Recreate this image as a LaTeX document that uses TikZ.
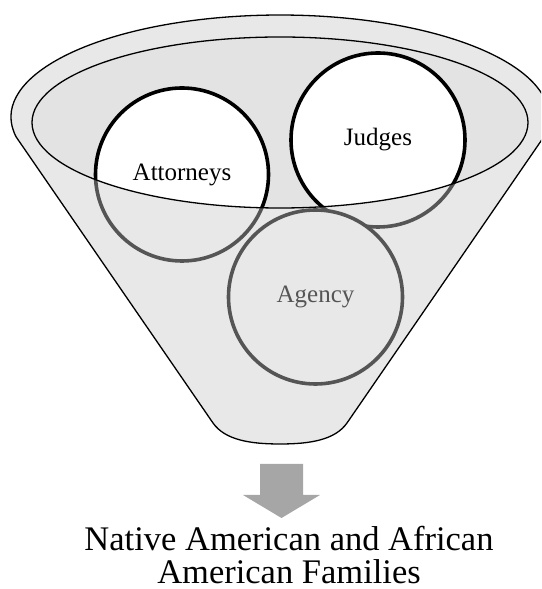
\documentclass[tikz,border=0pt]{standalone}
\usepackage{fontspec}
\setmainfont{Liberation Serif}
\definecolor{funnelgray}{gray}{0.89}
\definecolor{veil}{gray}{0.787}
\definecolor{arrowgray}{HTML}{A6A6A6}
\tikzset{
  ring/.style={circle, draw=black, line width=3.6pt, fill=white, minimum size=#1, inner sep=0pt, font=\fontsize{25}{30}\selectfont},
  outline/.style={draw=black, line width=1.3pt},
  caption/.style={anchor=base, inner sep=0pt, font=\fontsize{34.5}{34}\selectfont},
}
\begin{document}
\begin{tikzpicture}[x=1pt,y=1pt]
\useasboundingbox (0,0) rectangle (541,589);
\clip (0,0) rectangle (541,589);
\def\funnelpath{(16.2,452) arc[start angle=191.3, end angle=-11.3, x radius=269, y radius=102] -- (347,166) .. controls (335,149) and (310,145) .. (280,145) .. controls (250,145) and (225,149) .. (213,166) -- cycle}
\def\innerpath{(280,466.5) ellipse[x radius=248, y radius=85.5]}
% funnel body
\fill[white] \funnelpath;
\fill[funnelgray] \innerpath;
% circles
\node[ring=173pt] (att) at (182,414.5) {Attorneys};
\node[ring=174pt] (jud) at (378,449) {Judges};
\node[ring=174pt] (agy) at (315.5,292) {Agency};
% veil over the lower funnel
\begin{scope}
  \clip \funnelpath;
  \fill[veil, fill opacity=0.423, even odd rule] (0,0) rectangle (541,589) \innerpath;
\end{scope}
% outlines
\draw[outline] \funnelpath;
\draw[outline] \innerpath;
% arrow
\fill[arrowgray] (260,125) -- (303,125) -- (303,94) -- (320,94) -- (281.5,71) -- (243,94) -- (260,94) -- cycle;
% caption
\node[caption] (fam1) at (289,38) {Native American and African};
\node[caption] (fam2) at (289,5) {American Families};
\end{tikzpicture}
\end{document}
